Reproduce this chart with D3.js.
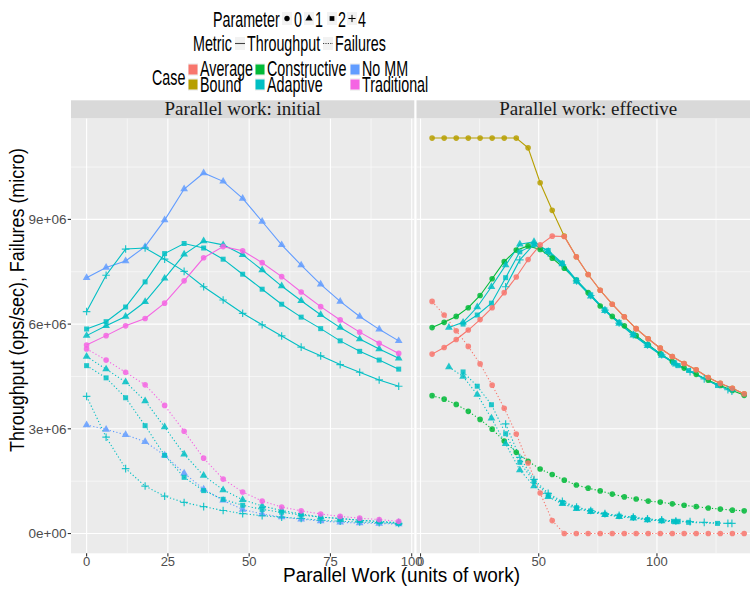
<!DOCTYPE html>
<html>
<head>
<meta charset="utf-8">
<script src="https://cdn.jsdelivr.net/npm/d3@7/dist/d3.min.js"></script>
<style>
    body { margin: 0; background: #fff; }
    svg { display: block; font-family: "Liberation Sans", Arial, sans-serif; }
</style>
</head>
<body>
<script>
// ---- Data (values in millions) ----
const facets = ["initial", "effective"];
const cases = ["Average", "Bound", "Constructive", "Adaptive", "No MM", "Traditional"];
const caseColors = ["#F8766D", "#B79F00", "#00BA38", "#00BFC4", "#619CFF", "#F564E3"];
const params = ["0", "1", "2", "4"];
const metrics = ["Throughput", "Failures"];

const yTicks = [0, 3, 6, 9];
const yTickLabels = ["0e+00", "3e+06", "6e+06", "9e+06"];
const yMinor = [1.5, 4.5, 7.5, 10.5];
const xTicksInitial = [0, 25, 50, 75, 100];
const xMinorInitial = [12.5, 37.5, 62.5, 87.5];
const xTicksEffective = [0, 50, 100];
const xMinorEffective = [25, 75, 125];

// Parallel work: initial
const initialWork = [0, 6, 12, 18, 24, 30, 36, 42, 48, 54, 60, 66, 72, 78, 84, 90, 96];
const initNoMM1Thr = [7.33, 7.62, 7.81, 8.22, 8.98, 9.87, 10.33, 10.09, 9.60, 8.94, 8.27, 7.69, 7.14, 6.65, 6.22, 5.85, 5.52];
const initNoMM1Fail = [3.11, 2.98, 2.83, 2.63, 2.24, 1.73, 1.27, 0.95, 0.69, 0.56, 0.47, 0.41, 0.36, 0.32, 0.30, 0.29, 0.27];
const initAdaptive4Thr = [6.36, 7.40, 8.15, 8.18, 7.86, 7.51, 7.07, 6.69, 6.31, 5.98, 5.66, 5.34, 5.09, 4.84, 4.62, 4.40, 4.22];
const initAdaptive4Fail = [3.93, 2.76, 1.86, 1.36, 1.07, 0.89, 0.77, 0.66, 0.57, 0.51, 0.47, 0.43, 0.38, 0.35, 0.33, 0.31, 0.29];
const initAdaptive2Thr = [5.86, 6.07, 6.49, 7.21, 8.02, 8.31, 8.18, 7.86, 7.43, 7.00, 6.57, 6.20, 5.87, 5.52, 5.22, 4.97, 4.71];
const initAdaptive2Fail = [4.81, 4.46, 3.89, 3.09, 2.24, 1.61, 1.23, 0.98, 0.81, 0.69, 0.61, 0.53, 0.47, 0.43, 0.38, 0.34, 0.29];
const initAdaptive1Thr = [5.67, 5.95, 6.22, 6.64, 7.31, 8.00, 8.38, 8.27, 7.99, 7.55, 7.09, 6.67, 6.27, 5.90, 5.57, 5.29, 5.02];
const initAdaptive1Fail = [5.07, 4.71, 4.34, 3.80, 3.05, 2.27, 1.66, 1.25, 0.97, 0.79, 0.66, 0.56, 0.47, 0.43, 0.38, 0.35, 0.31];
const initTraditional0Thr = [5.40, 5.67, 5.95, 6.16, 6.60, 7.24, 7.90, 8.22, 8.10, 7.76, 7.36, 6.92, 6.50, 6.12, 5.77, 5.45, 5.16];
const initTraditional0Fail = [5.29, 4.97, 4.62, 4.26, 3.67, 2.93, 2.16, 1.56, 1.19, 0.93, 0.76, 0.65, 0.56, 0.49, 0.44, 0.40, 0.35];

// Parallel work: effective
const effectiveWork = [4.9, 10.0, 15.1, 20.2, 25.2, 30.3, 35.4, 40.5, 45.5, 50.6, 55.7, 60.8, 65.9, 70.9, 76.0, 81.1, 86.2, 91.2, 96.3, 101.4, 106.5, 111.5, 116.6, 121.7, 126.8, 131.9, 136.9];
const effBound0Thr = [11.33, 11.33, 11.33, 11.33, 11.33, 11.33, 11.33, 11.33, 11.05, 10.05, 9.26, 8.52, 7.93, 7.42, 6.97, 6.57, 6.21, 5.87, 5.58, 5.31, 5.07, 4.87, 4.69, 4.47, 4.30, 4.16, 4.00];
const effAverage0Thr = [5.14, 5.33, 5.56, 5.83, 6.13, 6.47, 6.90, 7.35, 7.85, 8.27, 8.52, 8.51, 7.93, 7.42, 6.97, 6.57, 6.21, 5.87, 5.58, 5.31, 5.07, 4.87, 4.69, 4.47, 4.30, 4.16, 4.00];
const effAverage0Fail = [6.65, 6.26, 5.81, 5.36, 4.86, 4.25, 3.59, 2.85, 2.02, 1.16, 0.37, 0, 0, 0, 0, 0, 0, 0, 0, 0, 0, 0, 0, 0, 0, 0, 0];
const effConstructive0Thr = [5.90, 6.05, 6.22, 6.47, 6.82, 7.30, 7.79, 8.12, 8.24, 8.14, 7.89, 7.60, 7.26, 6.90, 6.52, 6.22, 5.95, 5.67, 5.41, 5.15, 4.93, 4.74, 4.56, 4.39, 4.24, 4.10, 3.96];
const effConstructive0Fail = [3.95, 3.85, 3.70, 3.50, 3.27, 2.99, 2.65, 2.33, 2.07, 1.85, 1.69, 1.53, 1.39, 1.30, 1.22, 1.13, 1.05, 0.99, 0.93, 0.90, 0.85, 0.81, 0.77, 0.73, 0.70, 0.67, 0.65];
const effAdaptive1Work = [12, 18, 24, 30, 36, 42, 48, 54, 60, 66, 72, 78, 84, 90, 96, 102, 108];
const effAdaptive1Thr = [5.90, 6.05, 6.49, 7.07, 7.69, 8.29, 8.36, 8.08, 7.72, 7.22, 6.80, 6.38, 6.02, 5.68, 5.38, 5.10, 4.85];
const effAdaptive1Fail = [4.77, 4.50, 3.98, 3.30, 2.57, 1.82, 1.36, 1.05, 0.85, 0.71, 0.62, 0.54, 0.48, 0.44, 0.39, 0.36, 0.33];
const effAdaptive2Work = [18, 24, 30, 36, 42, 48, 54, 60, 66, 72, 78, 84, 90, 96, 102, 107, 109, 113.4, 125.6];
const effAdaptive2Thr = [6.00, 6.26, 6.60, 7.33, 8.07, 8.28, 8.11, 7.75, 7.26, 6.84, 6.41, 6.05, 5.71, 5.41, 5.12, 4.89, 4.81, 4.67, 4.24];
const effAdaptive2Fail = [4.63, 4.22, 3.69, 2.86, 2.04, 1.49, 1.10, 0.89, 0.74, 0.65, 0.55, 0.50, 0.46, 0.40, 0.37, 0.35, 0.35, 0.32, 0.29];
const effAdaptive4Work = [36, 42, 48, 54, 60, 66, 72, 78, 84, 90, 96, 102, 108, 114, 120, 130, 131.7];
const effAdaptive4Thr = [7.07, 7.84, 8.29, 8.03, 7.70, 7.24, 6.82, 6.40, 6.03, 5.70, 5.40, 5.12, 4.86, 4.64, 4.43, 4.12, 4.08];
const effAdaptive4Fail = [3.14, 2.18, 1.55, 1.15, 0.92, 0.76, 0.66, 0.57, 0.52, 0.47, 0.42, 0.39, 0.36, 0.34, 0.32, 0.29, 0.29];

// Series table (draw order)
const series = [
    ["initial", "No MM", "1", "Throughput", initialWork, initNoMM1Thr],
    ["initial", "No MM", "1", "Failures", initialWork, initNoMM1Fail],
    ["initial", "Adaptive", "1", "Throughput", initialWork, initAdaptive1Thr],
    ["initial", "Adaptive", "1", "Failures", initialWork, initAdaptive1Fail],
    ["initial", "Adaptive", "2", "Throughput", initialWork, initAdaptive2Thr],
    ["initial", "Adaptive", "2", "Failures", initialWork, initAdaptive2Fail],
    ["initial", "Adaptive", "4", "Throughput", initialWork, initAdaptive4Thr],
    ["initial", "Adaptive", "4", "Failures", initialWork, initAdaptive4Fail],
    ["initial", "Traditional", "0", "Throughput", initialWork, initTraditional0Thr],
    ["initial", "Traditional", "0", "Failures", initialWork, initTraditional0Fail],
    ["effective", "Bound", "0", "Throughput", effectiveWork, effBound0Thr],
    ["effective", "Constructive", "0", "Throughput", effectiveWork, effConstructive0Thr],
    ["effective", "Constructive", "0", "Failures", effectiveWork, effConstructive0Fail],
    ["effective", "Adaptive", "1", "Throughput", effAdaptive1Work, effAdaptive1Thr],
    ["effective", "Adaptive", "1", "Failures", effAdaptive1Work, effAdaptive1Fail],
    ["effective", "Adaptive", "2", "Throughput", effAdaptive2Work, effAdaptive2Thr],
    ["effective", "Adaptive", "2", "Failures", effAdaptive2Work, effAdaptive2Fail],
    ["effective", "Adaptive", "4", "Throughput", effAdaptive4Work, effAdaptive4Thr],
    ["effective", "Adaptive", "4", "Failures", effAdaptive4Work, effAdaptive4Fail],
    ["effective", "Average", "0", "Throughput", effectiveWork, effAverage0Thr],
    ["effective", "Average", "0", "Failures", effectiveWork, effAverage0Fail],
].map(([facet, kase, param, metric, xs, ys]) => ({
    facet, kase, param, metric,
    points: xs.map((x, i) => [x, ys[i] * 1e6]),
}));

// ---- Layout ----
const width = 750;
const height = 589;
const panelTop = 118.3;
const panelBottom = 553.3;
const panelWidth = 343.3;
const panelLeft = { initial: 71, effective: 416.5 };
const stripTitle = { initial: "Parallel work: initial", effective: "Parallel work: effective" };
const serif = "'Liberation Serif', 'Times New Roman', serif";

// ggplot style 5% expansion
function expanded(ext) {
    const pad = (ext[1] - ext[0]) * 0.05;
    return [ext[0] - pad, ext[1] + pad];
}

const color = d3.scaleOrdinal().domain(cases).range(caseColors);
const allPoints = series.flatMap((s) => s.points);
const y = d3.scaleLinear()
    .domain(expanded(d3.extent(allPoints, (d) => d[1])))
    .range([panelBottom, panelTop]);

const xScales = {};
facets.forEach((f) => {
    const pts = series.filter((s) => s.facet === f).flatMap((s) => s.points);
    xScales[f] = d3.scaleLinear()
        .domain(expanded(d3.extent(pts, (d) => d[0])))
        .range([panelLeft[f], panelLeft[f] + panelWidth]);
});
const xTicks = { initial: xTicksInitial, effective: xTicksEffective };
const xMinor = { initial: xMinorInitial, effective: xMinorEffective };

const svg = d3.select("body").append("svg")
    .attr("width", width)
    .attr("height", height);

svg.append("rect").attr("width", width).attr("height", height).attr("fill", "#fff");

// Marker shapes by parameter
function shapePath(param, k = 1) {
    if (param === "0") return d3.symbol(d3.symbolCircle, 25 * k)();
    if (param === "1") return d3.symbol(d3.symbolTriangle, 26 * k)();
    if (param === "2") return d3.symbol(d3.symbolSquare, 25 * k)();
    const a = 3.8 * Math.sqrt(k);
    return `M${-a},0H${a}M0,${-a}V${a}`;
}

// ---- Panels ----
facets.forEach((f) => {
    const x = xScales[f];
    const g = svg.append("g");

    g.append("rect")
        .attr("x", panelLeft[f]).attr("y", panelTop)
        .attr("width", panelWidth).attr("height", panelBottom - panelTop)
        .attr("fill", "#EBEBEB");

    // minor grid
    g.selectAll(".ymin").data(yMinor).join("line")
        .attr("x1", panelLeft[f]).attr("x2", panelLeft[f] + panelWidth)
        .attr("y1", (d) => y(d * 1e6)).attr("y2", (d) => y(d * 1e6))
        .attr("stroke", "#fff").attr("stroke-width", 0.55);
    g.selectAll(".xmin").data(xMinor[f]).join("line")
        .attr("x1", (d) => x(d)).attr("x2", (d) => x(d))
        .attr("y1", panelTop).attr("y2", panelBottom)
        .attr("stroke", "#fff").attr("stroke-width", 0.55);

    // major grid
    g.selectAll(".ymaj").data(yTicks).join("line")
        .attr("x1", panelLeft[f]).attr("x2", panelLeft[f] + panelWidth)
        .attr("y1", (d) => y(d * 1e6)).attr("y2", (d) => y(d * 1e6))
        .attr("stroke", "#fff").attr("stroke-width", 1.1);
    g.selectAll(".xmaj").data(xTicks[f]).join("line")
        .attr("x1", (d) => x(d)).attr("x2", (d) => x(d))
        .attr("y1", panelTop).attr("y2", panelBottom)
        .attr("stroke", "#fff").attr("stroke-width", 1.1);

    // strip
    g.append("rect")
        .attr("x", panelLeft[f]).attr("y", 100.3)
        .attr("width", panelWidth).attr("height", panelTop - 100.3)
        .attr("fill", "#D9D9D9");
    g.append("text")
        .attr("x", panelLeft[f] + panelWidth / 2).attr("y", 115)
        .attr("text-anchor", "middle")
        .attr("font-family", serif).attr("font-size", 19)
        .attr("fill", "#1A1A1A")
        .text(stripTitle[f]);

    // x axis ticks and labels
    g.selectAll(".xt").data(xTicks[f]).join("line")
        .attr("x1", (d) => x(d)).attr("x2", (d) => x(d))
        .attr("y1", panelBottom).attr("y2", panelBottom + 3.3)
        .attr("stroke", "#333").attr("stroke-width", 1.1);
    g.selectAll(".xl").data(xTicks[f]).join("text")
        .attr("x", (d) => x(d)).attr("y", 566)
        .attr("text-anchor", "middle")
        .attr("font-size", 13).attr("fill", "#4D4D4D")
        .text((d) => d);

    // lines
    const line = d3.line().x((d) => x(d[0])).y((d) => y(d[1]));
    const fs = series.filter((s) => s.facet === f);
    g.selectAll(".series").data(fs).join("path")
        .attr("d", (s) => line(s.points))
        .attr("fill", "none")
        .attr("stroke", (s) => color(s.kase))
        .attr("stroke-width", 1.1)
        .attr("stroke-dasharray", (s) => (s.metric === "Failures" ? "1.2,2.2" : null));

    // points
    fs.forEach((s) => {
        const plus = s.param === "4";
        g.append("g").selectAll("path").data(s.points).join("path")
            .attr("transform", (d) => `translate(${x(d[0])},${y(d[1])})`)
            .attr("d", shapePath(s.param))
            .attr("fill", plus ? "none" : color(s.kase))
            .attr("stroke", plus ? color(s.kase) : "none")
            .attr("stroke-width", plus ? 1.2 : 0)
            .attr("opacity", 0.85);
    });
});

// ---- Y axis (left panel only) ----
const yAxis = svg.append("g");
yAxis.selectAll("line").data(yTicks).join("line")
    .attr("x1", panelLeft.initial - 3.3).attr("x2", panelLeft.initial)
    .attr("y1", (d) => y(d * 1e6)).attr("y2", (d) => y(d * 1e6))
    .attr("stroke", "#333").attr("stroke-width", 1.1);
yAxis.selectAll("text").data(yTicks).join("text")
    .attr("x", 66.5).attr("y", (d) => y(d * 1e6))
    .attr("dy", "0.35em")
    .attr("text-anchor", "end")
    .attr("font-size", 13.5).attr("fill", "#4D4D4D")
    .text((d, i) => yTickLabels[i]);

// Axis titles
svg.append("text")
    .attr("x", 401.5).attr("y", 582)
    .attr("text-anchor", "middle")
    .attr("font-size", 20).attr("fill", "#000")
    .attr("textLength", 237).attr("lengthAdjust", "spacingAndGlyphs")
    .text("Parallel Work (units of work)");
svg.append("text")
    .attr("transform", "translate(24,300) rotate(-90)")
    .attr("text-anchor", "middle")
    .attr("font-size", 21).attr("fill", "#000")
    .attr("textLength", 304).attr("lengthAdjust", "spacingAndGlyphs")
    .text("Throughput (ops/sec), Failures (micro)");

// ---- Legends ----
const legend = svg.append("g");
const sx = 0.65;
function legendText(x, yb, str) {
    legend.append("text")
        .attr("transform", `translate(${x},${yb}) scale(${sx},1)`)
        .attr("font-size", 22).attr("fill", "#000")
        .text(str);
}
function keyBox(x, y0, w, h) {
    legend.append("rect")
        .attr("x", x).attr("y", y0).attr("width", w).attr("height", h)
        .attr("fill", "#F2F2F2");
}

// Parameter
legendText(213, 26.5, "Parameter");
const paramKeyX = [282, 304, 327, 347];
const paramTextX = [294, 315, 338, 358];
params.forEach((p, i) => {
    keyBox(paramKeyX[i], 12, 10, 13);
    const plus = p === "4";
    legend.append("path")
        .attr("transform", `translate(${paramKeyX[i] + 5},18.5)`)
        .attr("d", shapePath(p, 0.9))
        .attr("fill", plus ? "none" : "#000")
        .attr("stroke", plus ? "#000" : "none")
        .attr("stroke-width", plus ? 1 : 0);
    legendText(paramTextX[i], 26.5, p);
});

// Metric
legendText(193, 50.5, "Metric");
const metricKeyX = [235, 323];
const metricTextX = [247, 335];
metrics.forEach((m, i) => {
    keyBox(metricKeyX[i], 37, 10, 13);
    legend.append("line")
        .attr("x1", metricKeyX[i]).attr("x2", metricKeyX[i] + 10)
        .attr("y1", 43.5).attr("y2", 43.5)
        .attr("stroke", "#444").attr("stroke-width", 1.1)
        .attr("stroke-dasharray", m === "Failures" ? "1.2,1.2" : null);
    legendText(metricTextX[i], 50.5, m);
});

// Case (2 rows, filled column-wise)
legendText(152, 84.5, "Case");
const caseKeyX = [188, 255, 350];
const caseTextX = [200, 267, 362];
const caseRowY = [63, 78];
const caseBase = [75.5, 91.5];
cases.forEach((c, i) => {
    const col = Math.floor(i / 2);
    const row = i % 2;
    keyBox(caseKeyX[col], caseRowY[row], 10, 13);
    legend.append("rect")
        .attr("x", caseKeyX[col] + 0.5).attr("y", caseRowY[row] + 1.5)
        .attr("width", 9).attr("height", 10)
        .attr("fill", color(c));
    legendText(caseTextX[col], caseBase[row], c);
});
</script>
</body>
</html>
